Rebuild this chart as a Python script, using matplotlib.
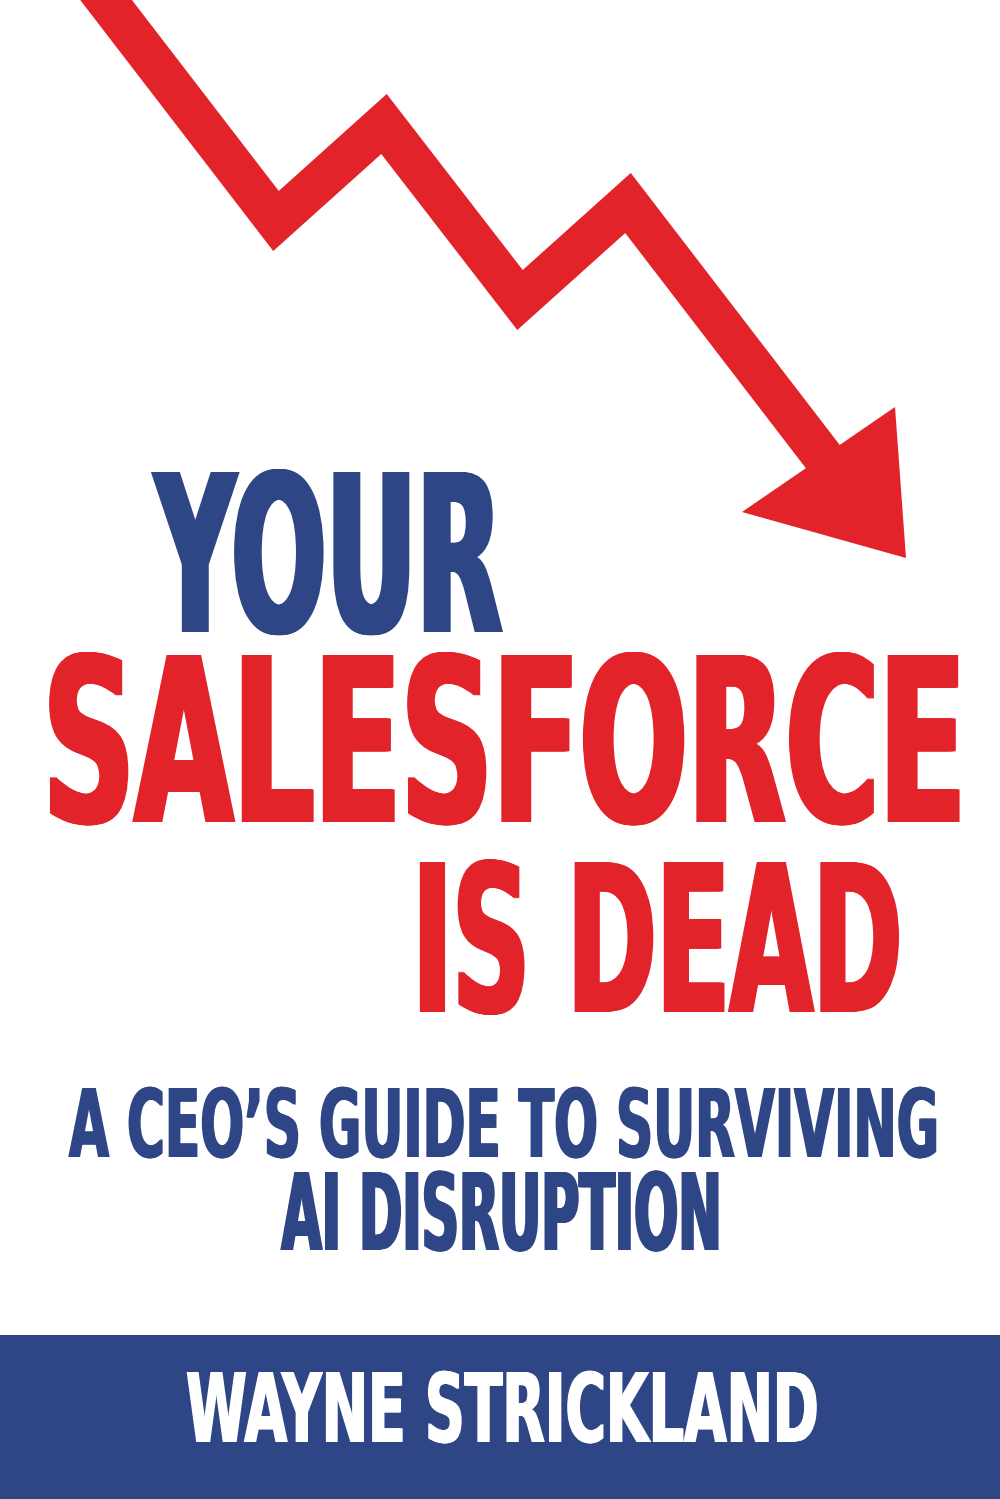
import matplotlib
matplotlib.use('Agg')
import matplotlib.pyplot as plt
import matplotlib.patheffects as pe
from matplotlib.patches import Polygon, Rectangle
from matplotlib.textpath import TextPath
from matplotlib.font_manager import FontProperties
from matplotlib.transforms import Affine2D

W, H = 1000, 1499
RED = '#E2232A'
BLUE = '#2E4586'
FAMILY = ['Liberation Sans Narrow', 'DejaVu Sans']

# falling trend line, in cover pixels (y grows downwards)
trend_x = [83, 276, 384, 520, 628, 850]
trend_y = [-30, 221, 124, 300, 203, 492]
head_x = [742, 906, 895]
head_y = [512, 558, 407]

title_lines = ['YOUR', 'SALESFORCE', 'IS DEAD']
title_colors = [BLUE, RED, RED]
subtitle_lines = ['A CEO\u2019S GUIDE TO SURVIVING', 'AI DISRUPTION']
author = 'WAYNE STRICKLAND'

# text boxes: left, right, cap top, baseline
title_boxes = [(152, 505, 472, 632), (40, 968, 655, 822), (410, 905, 862, 1012)]
subtitle_boxes = [(68, 940, 1088, 1157), (280, 722, 1172, 1250)]
author_box = (185, 820, 1372, 1442)
band_top = 1335


class Squash(pe.AbstractPathEffect):
    # the cover font is very condensed and heavy: squeeze the glyphs around
    # the anchor and smear them sideways by dx pixels to thicken the stems
    def __init__(self, sx, sy, x0, y0, dx):
        super().__init__()
        self.t = Affine2D().translate(-x0, -y0).scale(sx, sy).translate(x0 - dx / 2, y0)
        self.n = max(int(round(dx)), 0)

    def draw_path(self, renderer, gc, tpath, affine, rgbFace=None):
        for k in range(self.n + 1):
            renderer.draw_path(gc, tpath, affine + self.t + Affine2D().translate(k, 0), rgbFace)


fig = plt.figure(figsize=(10, 14.99), dpi=100)
ax = fig.add_axes([0, 0, 1, 1])
ax.set_xlim(0, W)
ax.set_ylim(H, 0)
ax.axis('off')
rend = fig.canvas.get_renderer()

fp = FontProperties(family=FAMILY, weight='bold')
cap_per_pt = TextPath((0, 0), 'H', size=100, prop=fp).get_extents().height / 100


def place(text, box, color, bold=0.035):
    left, right, top, bottom = box
    cx = (left + right) / 2
    dx = bold * (bottom - top)
    t = ax.text(cx, bottom, text, color=color, family=FAMILY, fontweight='bold',
                ha='center', va='baseline')
    t.set_fontsize(100)
    w = t.get_window_extent(renderer=rend).width
    t.set_fontsize(100 * (right - left) / w)
    w = t.get_window_extent(renderer=rend).width
    sx = (right - left - dx) / w
    cap = cap_per_pt * t.get_fontsize() * fig.dpi / 72
    sy = (bottom - top) / cap
    x0, y0 = ax.transData.transform((cx, bottom))
    t.set_path_effects([Squash(sx, sy, x0, y0, dx)])
    return t


ax.plot(trend_x, trend_y, color=RED, lw=41 * 0.72,
        solid_joinstyle='miter', solid_capstyle='projecting')
ax.add_patch(Polygon(list(zip(head_x, head_y)), closed=True, color=RED, lw=0))

for line, box, col in zip(title_lines, title_boxes, title_colors):
    place(line, box, col)
for line, box in zip(subtitle_lines, subtitle_boxes):
    place(line, box, BLUE)

ax.add_patch(Rectangle((0, band_top), W, H - band_top, color=BLUE, lw=0))
place(author, author_box, 'white')

fig.savefig('out.png', dpi=100, facecolor='white')
